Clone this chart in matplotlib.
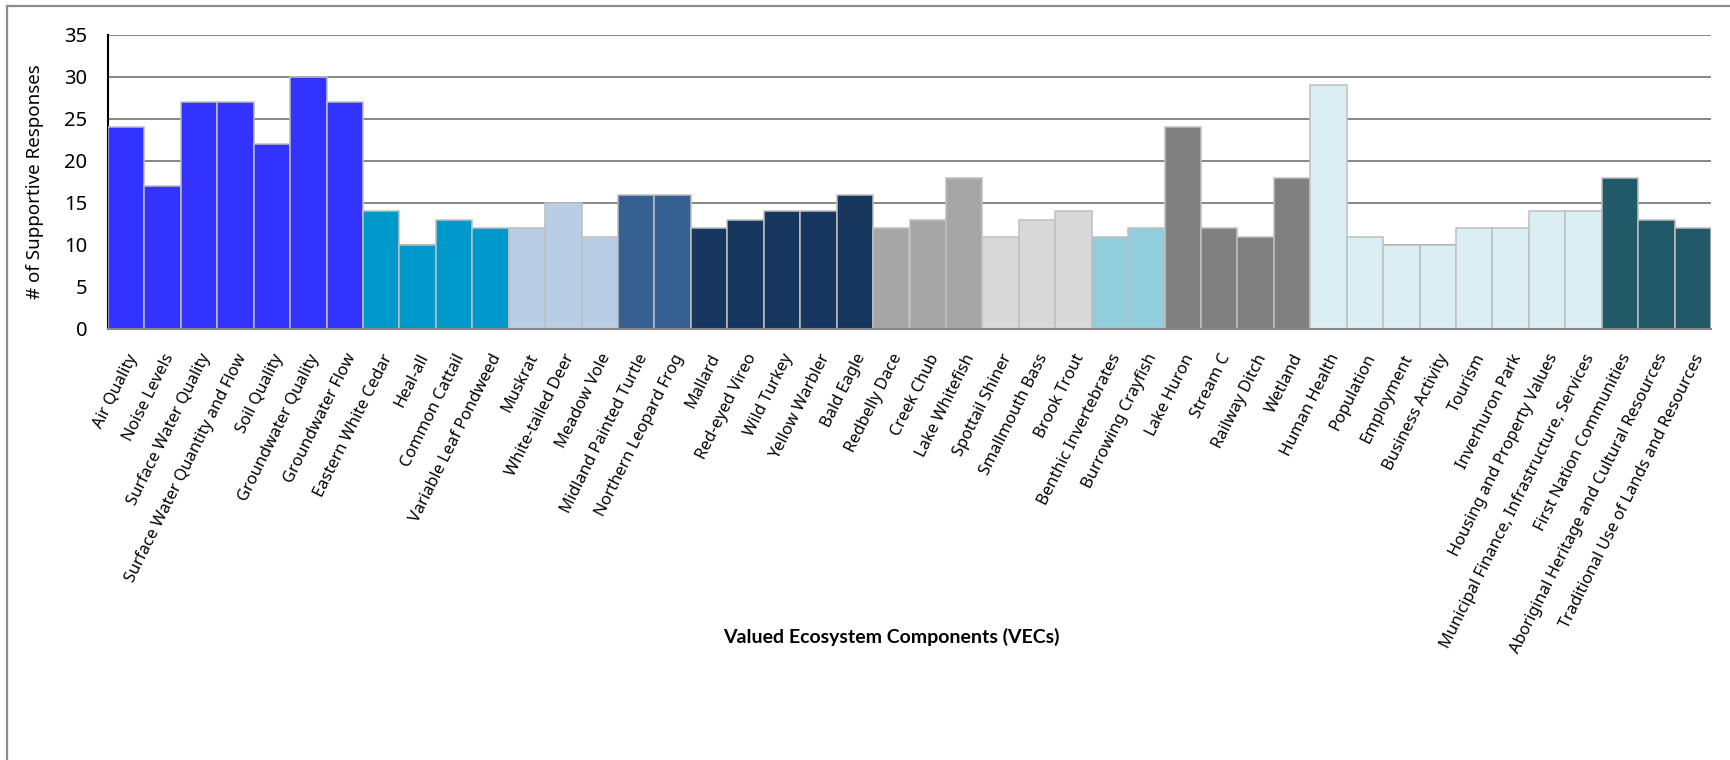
import matplotlib
matplotlib.use("Agg")
import matplotlib.pyplot as plt
from matplotlib.transforms import ScaledTranslation
from matplotlib.lines import Line2D

categories = [
    "Air Quality", "Noise Levels", "Surface Water Quality",
    "Surface Water Quantity and Flow", "Soil Quality", "Groundwater Quality",
    "Groundwater Flow", "Eastern White Cedar", "Heal-all", "Common Cattail",
    "Variable Leaf Pondweed", "Muskrat", "White-tailed Deer", "Meadow Vole",
    "Midland Painted Turtle", "Northern Leopard Frog", "Mallard",
    "Red-eyed Vireo", "Wild Turkey", "Yellow Warbler", "Bald Eagle",
    "Redbelly Dace", "Creek Chub", "Lake Whitefish", "Spottail Shiner",
    "Smallmouth Bass", "Brook Trout", "Benthic Invertebrates",
    "Burrowing Crayfish", "Lake Huron", "Stream C", "Railway Ditch",
    "Wetland", "Human Health", "Population", "Employment",
    "Business Activity", "Tourism", "Inverhuron Park",
    "Housing and Property Values",
    "Municipal Finance, Infrastructure, Services",
    "First Nation Communities", "Aboriginal Heritage and Cultural Resources",
    "Traditional Use of Lands and Resources",
]

responses = [
    24, 17, 27, 27, 22, 30, 27,
    14, 10, 13, 12,
    12, 15, 11,
    16, 16,
    12, 13, 14, 14, 16,
    12, 13, 18,
    11, 13, 14,
    11, 12,
    24, 12, 11, 18,
    29, 11, 10, 10, 12, 12, 14, 14,
    18, 13, 12,
]

# consecutive categories sharing a fill colour
group_sizes = [7, 4, 3, 2, 5, 3, 3, 2, 4, 8, 3]
group_colors = [
    "#3333FF", "#0099CC", "#B9CDE5", "#366092", "#17375E", "#A6A6A6",
    "#D9D9D9", "#92CDDC", "#808080", "#DAEEF3", "#215968",
]

yticks = [0, 5, 10, 15, 20, 25, 30, 35]

bar_colors = []
for size, color in zip(group_sizes, group_colors):
    bar_colors.extend([color] * size)

TEXT_FONT = ["Noto Sans", "DejaVu Sans"]

DPI = 100
fig = plt.figure(figsize=(17.3, 7.6), dpi=DPI)
ax = fig.add_axes([108 / 1730, 1 - 329 / 760, (1711 - 108) / 1730, (329 - 35) / 760])

x = list(range(len(categories)))
ax.bar(x, responses, width=1.0, color=bar_colors, edgecolor="#BFBFBF",
       linewidth=1.1, zorder=3)

ax.set_xlim(-0.5, len(categories) - 0.5)
ax.set_ylim(0, 35)
ax.set_yticks(yticks)
ax.set_yticklabels([str(v) for v in yticks], family=TEXT_FONT, fontsize=14.5)
ax.yaxis.grid(True, color="#868686", linewidth=1.4, zorder=0)
ax.set_axisbelow(True)

ax.set_xticks(x)
ax.set_xticklabels(categories, rotation=63.5, ha="right", va="top",
                   rotation_mode="anchor", family=TEXT_FONT, fontsize=11.8)
shift = ScaledTranslation(7 / DPI, 0, fig.dpi_scale_trans)
for lbl in ax.get_xticklabels():
    lbl.set_transform(lbl.get_transform() + shift)

ax.tick_params(axis="x", length=0, pad=16)
ax.tick_params(axis="y", length=0, pad=15)

for side in ("top", "right"):
    ax.spines[side].set_visible(False)
ax.spines["left"].set_color("black")
ax.spines["left"].set_linewidth(1.5)
ax.spines["bottom"].set_color("#868686")
ax.spines["bottom"].set_linewidth(1.5)
ax.spines["bottom"].set_zorder(4)

fig.text(35 / 1730, 1 - 182 / 760, "# of Supportive Responses", rotation=90,
         ha="center", va="center", family=TEXT_FONT, fontsize=13.5)
fig.text(891 / 1730, 1 - 637 / 760, "Valued Ecosystem Components (VECs)",
         ha="center", va="center", family="Lato", fontweight="bold",
         fontsize=14)

# outer frame on the left and top edges
fig.add_artist(Line2D([6.5 / 1730, 6.5 / 1730], [0, 1 - 6 / 760],
                      transform=fig.transFigure, color="#8C8C8C", linewidth=1.6))
fig.add_artist(Line2D([6.5 / 1730, 1], [1 - 6 / 760, 1 - 6 / 760],
                      transform=fig.transFigure, color="#8C8C8C", linewidth=1.6))

fig.savefig("out.png", dpi=DPI, facecolor="white")
